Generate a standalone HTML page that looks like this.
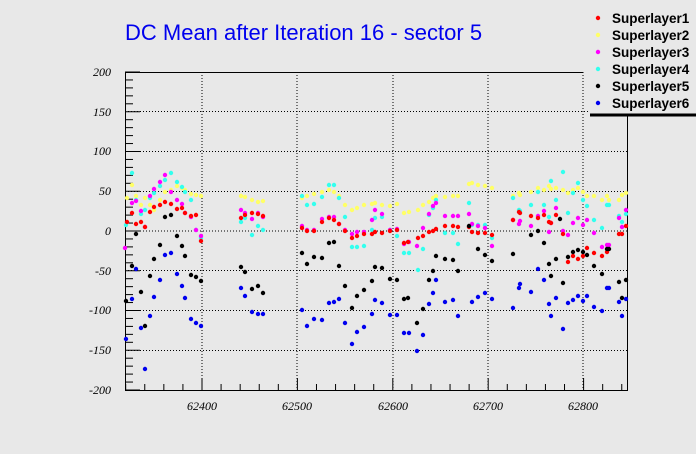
<!DOCTYPE html>
<html><head><meta charset="utf-8"><style>
html,body{margin:0;padding:0;background:#e8e8e8;}
svg{display:block;}
</style></head><body>
<svg width="696" height="454" xmlns="http://www.w3.org/2000/svg">
<rect width="696" height="454" fill="#e8e8e8"/>
<text x="125" y="40" font-family="Liberation Sans, sans-serif" font-size="22" fill="#0000ee">DC Mean after Iteration 16 - sector 5</text>
<g id="grid" stroke="#000" stroke-width="1" stroke-dasharray="1,2">
<line x1="202" y1="72" x2="202" y2="390"/><line x1="297" y1="72" x2="297" y2="390"/>
<line x1="393" y1="72" x2="393" y2="390"/><line x1="488" y1="72" x2="488" y2="390"/>
<line x1="583" y1="72" x2="583" y2="390"/>
<line x1="125" y1="111.5" x2="627" y2="111.5"/><line x1="125" y1="151.5" x2="627" y2="151.5"/>
<line x1="125" y1="191.5" x2="627" y2="191.5"/><line x1="125" y1="231" x2="627" y2="231"/>
<line x1="125" y1="270.5" x2="627" y2="270.5"/><line x1="125" y1="310.5" x2="627" y2="310.5"/>
<line x1="125" y1="350.5" x2="627" y2="350.5"/>
</g>
<g stroke="#000" stroke-width="1" fill="none">
<polyline points="583,72.5 125.5,72.5 125.5,390.5 627.5,390.5 627.5,115"/>
</g>
<g id="ticks" stroke="#000" stroke-width="1"></g>
<g id="pts"></g>
<g font-family="Liberation Serif, serif" font-style="italic" font-size="12" fill="#000" text-anchor="end">
<text x="111" y="76">200</text><text x="111" y="116">150</text><text x="111" y="155">100</text>
<text x="111" y="195">50</text><text x="111" y="235">0</text><text x="111" y="275">-50</text>
<text x="111" y="314">-100</text><text x="111" y="354">-150</text><text x="111" y="394">-200</text>
</g>
<g font-family="Liberation Serif, serif" font-style="italic" font-size="12" fill="#000" text-anchor="middle">
<text x="202" y="410">62400</text><text x="297" y="410">62500</text><text x="393" y="410">62600</text>
<text x="488" y="410">62700</text><text x="583" y="410">62800</text>
</g>
<rect x="590" y="0" width="106" height="115" fill="#e8e8e8"/>
<line x1="590" y1="115" x2="696" y2="115" stroke="#000" stroke-width="3"/>
<g font-family="Liberation Sans, sans-serif" font-weight="bold" font-size="13.5" fill="#000">
<text x="612" y="23">Superlayer1</text><text x="612" y="40">Superlayer2</text>
<text x="612" y="57">Superlayer3</text><text x="612" y="74">Superlayer4</text>
<text x="612" y="91">Superlayer5</text><text x="612" y="108">Superlayer6</text>
</g>
<g>
<circle cx="598" cy="18" r="2.2" fill="#ff0000"/><circle cx="598" cy="35" r="2.2" fill="#ffff66"/>
<circle cx="598" cy="52" r="2.2" fill="#ff00ff"/><circle cx="598" cy="69" r="2.2" fill="#33ffee"/>
<circle cx="598" cy="86" r="2.2" fill="#000"/><circle cx="598" cy="103" r="2.2" fill="#0000ee"/>
</g>
</svg>
<script>
const NS="http://www.w3.org/2000/svg";
const tk=document.getElementById('ticks');
function ln(a,b,c,d){const l=document.createElementNS(NS,'line');l.setAttribute('x1',a);l.setAttribute('y1',b);l.setAttribute('x2',c);l.setAttribute('y2',d);tk.appendChild(l);}
for(let v=62320;v<=62840;v+=20){const x=202+(v-62400)*0.954;const maj=v%100==0;ln(x,390,x,maj?378:384);}
for(let v=-200;v<=200;v+=10){const y=231-v*0.795;const maj=v%50==0;ln(125,y,maj?140:133,y);}
const S={
"#0000ee":[[126,339],[132,299],[136,269],[141,328],[145,369],[150,316],[154,297],[160,280],[165,255],[171,253],[177,274],[182,286],[185,298],[191,319],[196,323],[201,326],[241,288],[245,296],[252,312],[258,314],[263,314],[302,310],[307,326],[314,319],[322,320],[329,303],[334,302],[339,299],[345,323],[352,344],[357,332],[364,327],[372,314],[375,300],[382,303],[390,315],[397,315],[404,333],[409,333],[417,351],[423,335],[429,304],[433,293],[436,280],[445,302],[453,300],[458,316],[472,302],[478,297],[485,293],[492,299],[513,308],[519,288],[520,284],[531,292],[538,269],[544,280],[549,304],[551,316],[556,298],[563,329],[568,303],[573,300],[578,296],[583,301],[587,296],[594,307],[602,311],[607,288],[609,288],[619,302],[622,316],[626,299]],
"#000000":[[126,301],[132,266],[136,234],[141,292],[145,326],[150,276],[154,259],[160,245],[165,217],[171,215],[177,236],[182,246],[185,256],[191,275],[196,277],[201,281],[241,267],[245,272],[252,289],[258,286],[263,293],[302,253],[307,264],[314,257],[322,258],[329,243],[334,242],[339,266],[345,286],[352,308],[357,296],[364,290],[372,281],[375,267],[382,268],[390,279],[397,280],[404,299],[408,298],[417,323],[423,309],[429,280],[433,271],[436,256],[445,259],[453,260],[458,271],[469,226],[478,249],[485,255],[492,261],[513,254],[531,235],[538,231],[544,243],[549,264],[551,276],[556,259],[560,219],[563,283],[568,257],[573,252],[578,250],[583,252],[587,255],[594,266],[602,274],[607,249],[609,249],[619,282],[622,298],[626,280]],
"#33ffee":[[126,225],[132,173],[136,200],[141,214],[145,210],[150,198],[154,193],[160,186],[165,180],[171,173],[177,182],[182,187],[185,192],[191,200],[196,230],[201,238],[241,222],[245,218],[252,235],[258,226],[263,230],[302,196],[307,205],[314,204],[322,197],[329,185],[334,185],[339,198],[345,217],[352,247],[357,247],[364,246],[372,230],[375,218],[382,217],[390,230],[397,236],[404,253],[409,253],[418,270],[423,249],[429,215],[433,208],[436,200],[445,233],[453,233],[458,244],[469,203],[472,225],[478,225],[485,225],[492,238],[513,198],[519,210],[520,211],[531,205],[538,192],[544,205],[549,217],[551,181],[556,200],[563,172],[568,213],[573,193],[578,183],[583,200],[587,206],[594,220],[602,228],[607,205],[609,205],[619,216],[622,222],[626,214]],
"#ff00ff":[[125,248],[132,203],[136,201],[141,211],[145,227],[150,196],[154,189],[160,182],[165,175],[171,192],[177,200],[182,204],[185,213],[191,217],[196,230],[201,236],[241,210],[245,213],[252,219],[258,213],[263,217],[302,226],[307,230],[314,230],[322,219],[329,217],[334,217],[339,224],[345,230],[352,234],[357,232],[364,232],[372,220],[375,210],[382,214],[390,230],[397,229],[404,244],[409,242],[417,246],[423,228],[429,214],[433,206],[436,203],[445,216],[453,216],[458,216],[469,214],[472,224],[478,226],[485,228],[492,246],[513,220],[519,224],[520,221],[531,226],[538,216],[544,211],[549,232],[551,223],[556,208],[563,231],[568,235],[573,223],[578,218],[583,225],[587,220],[594,233],[602,247],[607,245],[609,245],[619,218],[622,227],[626,210]],
"#ff0000":[[127,222],[132,213],[136,224],[141,222],[145,227],[150,212],[154,207],[160,205],[165,202],[171,204],[177,209],[182,208],[185,213],[191,216],[196,215],[201,241],[241,218],[245,215],[252,213],[258,214],[263,216],[302,228],[307,231],[314,231],[322,222],[329,218],[334,220],[339,224],[345,231],[352,238],[357,236],[364,234],[372,234],[375,232],[382,233],[390,231],[397,230],[404,243],[408,242],[418,238],[423,236],[429,232],[433,231],[436,229],[445,226],[453,226],[458,227],[469,227],[472,232],[478,233],[485,233],[492,235],[513,220],[519,212],[520,213],[531,216],[538,218],[544,215],[549,222],[551,223],[556,215],[563,234],[568,262],[573,256],[578,259],[583,256],[587,248],[594,253],[602,256],[607,252],[619,234],[622,234],[626,226]],
"#ffff66":[[127,198],[132,185],[136,196],[141,205],[145,198],[150,205],[154,210],[160,200],[165,192],[171,190],[177,186],[182,188],[185,190],[191,194],[196,195],[201,196],[241,196],[245,197],[252,200],[258,202],[263,201],[302,198],[307,196],[314,194],[322,192],[329,190],[334,192],[339,196],[345,205],[352,210],[357,208],[364,205],[372,204],[375,203],[382,205],[390,206],[397,204],[404,213],[409,212],[418,210],[423,205],[429,202],[433,198],[436,196],[445,197],[453,196],[458,196],[469,184],[472,183],[478,185],[485,186],[492,188],[513,196],[519,193],[520,195],[531,192],[538,188],[544,190],[549,186],[551,189],[556,188],[563,190],[568,193],[573,190],[578,188],[583,192],[587,196],[594,196],[602,200],[607,196],[609,200],[619,200],[622,195],[626,193]]
};
const pg=document.getElementById('pts');
const order=["#ffff66","#33ffee","#ff00ff","#ff0000","#000000","#0000ee"];
for(const c of order){for(const p of S[c]){const e=document.createElementNS(NS,'circle');e.setAttribute('cx',p[0]);e.setAttribute('cy',p[1]);e.setAttribute('r',2.2);e.setAttribute('fill',c);pg.appendChild(e);}}
</script>
</body></html>
